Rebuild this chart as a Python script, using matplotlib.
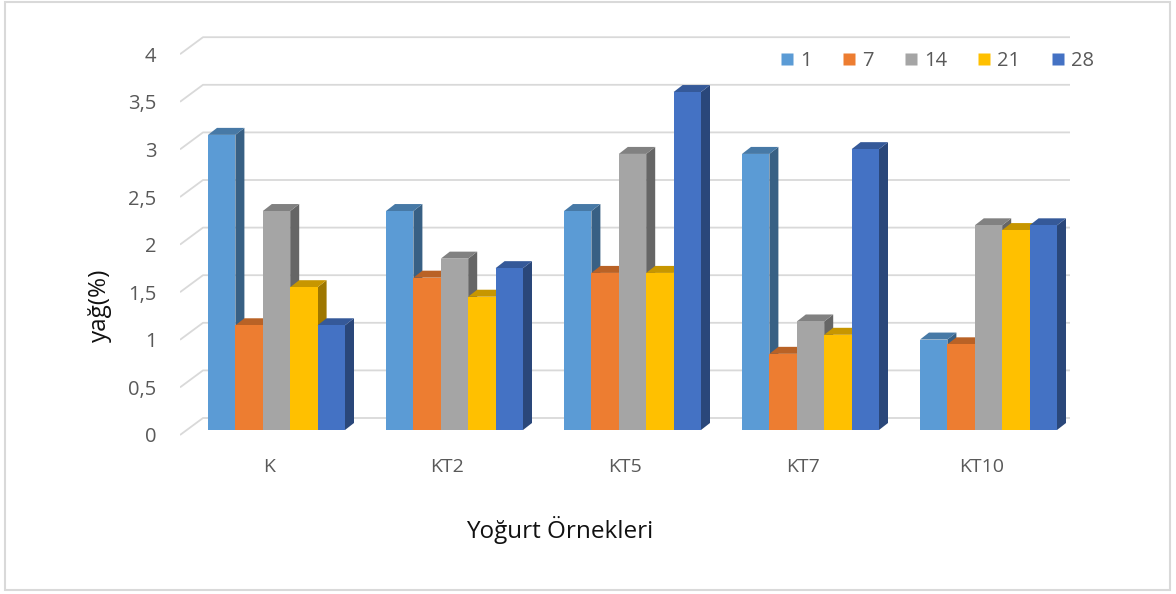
import numpy as np
import matplotlib.pyplot as plt
from matplotlib.patches import Polygon, Rectangle
from matplotlib.lines import Line2D
from matplotlib import colors as mcolors
import matplotlib.transforms as mtrans

plt.rcParams['font.family'] = ['Open Sans', 'DejaVu Sans']

categories = ['K', 'KT2', 'KT5', 'KT7', 'KT10']
days = ['1', '7', '14', '21', '28']
fat_d1 = [3.1, 2.3, 2.3, 2.9, 0.95]
fat_d7 = [1.1, 1.6, 1.65, 0.8, 0.9]
fat_d14 = [2.3, 1.8, 2.9, 1.14, 2.15]
fat_d21 = [1.5, 1.4, 1.65, 1.0, 2.1]
fat_d28 = [1.1, 1.7, 3.55, 2.95, 2.15]
yticks = [0, 0.5, 1, 1.5, 2, 2.5, 3, 3.5, 4]
ytick_labels = ['0', '0,5', '1', '1,5', '2', '2,5', '3', '3,5', '4']

series = [fat_d1, fat_d7, fat_d14, fat_d21, fat_d28]
bar_colors = ['#5B9BD5', '#ED7D31', '#A5A5A5', '#FFC000', '#4472C4']

W, H = 1176, 594
fig = plt.figure(figsize=(W / 100, H / 100), dpi=100)

# axes box in pixels (left, top, right, bottom)
L, T, R, B = 180, 30, 1100, 450
ax = fig.add_axes([L / W, 1 - B / H, (R - L) / W, (B - T) / H])

px_unit_x = 178.0   # pixels between groups
px_unit_y = 95.2    # pixels per 1 %
x_center0 = 276.5
base_px = 430
xlo = (L - x_center0) / px_unit_x
xhi = (R - x_center0) / px_unit_x
ylo = -(B - base_px) / px_unit_y
yhi = (base_px - T) / px_unit_y
ax.set_xlim(xlo, xhi)
ax.set_ylim(ylo, yhi)

sx = (R - L) / (xhi - xlo)
sy = (B - T) / (yhi - ylo)

for s in ax.spines.values():
    s.set_visible(False)

# skewed gridlines (3D walls)
grid_c = '#d9d9d9'
back_dy = 12 / sy
front_dy = 5 / sy
gx0 = xlo
gx1 = xlo + 23 / sx
gx2 = (1070 - x_center0) / px_unit_x
for v in yticks:
    ax.plot([gx0, gx1, gx2], [v - front_dy, v + back_dy, v + back_dy],
            color=grid_c, lw=1.3, zorder=1, solid_capstyle='butt')

# 3D bars
w = 27.4 / px_unit_x
ddx = 9 / sx
ddy = 7 / sy


def shade(c, f):
    r, g, b = mcolors.to_rgb(c)
    return (r * f, g * f, b * f)


x = np.arange(len(categories))
z = 5
for gi in range(len(categories)):
    left0 = x[gi] - 2.5 * w
    for si, vals in enumerate(series):
        h = vals[gi]
        x0 = left0 + si * w
        c = bar_colors[si]
        side = Polygon([(x0 + w, 0), (x0 + w + ddx, ddy), (x0 + w + ddx, h + ddy), (x0 + w, h)],
                       closed=True, facecolor=shade(c, 0.62), edgecolor='none', zorder=z)
        top = Polygon([(x0, h), (x0 + w, h), (x0 + w + ddx, h + ddy), (x0 + ddx, h + ddy)],
                      closed=True, facecolor=shade(c, 0.78), edgecolor='none', zorder=z + 1)
        ax.add_patch(side)
        ax.add_patch(top)
        ax.bar(x0, h, width=w, align='edge', color=c, linewidth=0, zorder=z + 2)
        z += 3

# ticks
ax.set_yticks(yticks)
ax.set_yticklabels(ytick_labels, fontsize=14.5, color='#595959')
ax.tick_params(axis='y', length=0, pad=17)
yoff = mtrans.ScaledTranslation(0, -5 / 100, fig.dpi_scale_trans)
for lab in ax.get_yticklabels():
    lab.set_transform(lab.get_transform() + yoff)

ax.set_xticks(x)
ax.set_xticklabels(categories, fontsize=14, color='#595959')
ax.tick_params(axis='x', length=0, pad=6)
xoff = mtrans.ScaledTranslation(-7 / 100, 0, fig.dpi_scale_trans)
for lab in ax.get_xticklabels():
    lab.set_transform(lab.get_transform() + xoff)

fig.text(100 / W, 1 - 305 / H, 'yağ(%)', rotation=90, fontsize=17.5, color='#111111',
         ha='center', va='center')
fig.text(560 / W, 1 - 530 / H, 'Yoğurt Örnekleri', fontsize=17.5, color='#111111',
         ha='center', va='center')

handles = [Line2D([0], [0], marker='s', linestyle='none', markersize=9,
                  markerfacecolor=c, markeredgecolor='none') for c in bar_colors]
fig.legend(handles, days, loc='center right', bbox_to_anchor=(1112 / W, 1 - 61 / H),
           ncol=5, frameon=False, fontsize=14.5, labelcolor='#595959',
           handlelength=0.7, handletextpad=0.3, columnspacing=1.5)

fig.patches.append(Rectangle((5 / W, 1 - 590 / H), 1165 / W, 588 / H,
                             transform=fig.transFigure, fill=False,
                             edgecolor='#d9d9d9', lw=1.5))

fig.savefig('out.png', dpi=100)
